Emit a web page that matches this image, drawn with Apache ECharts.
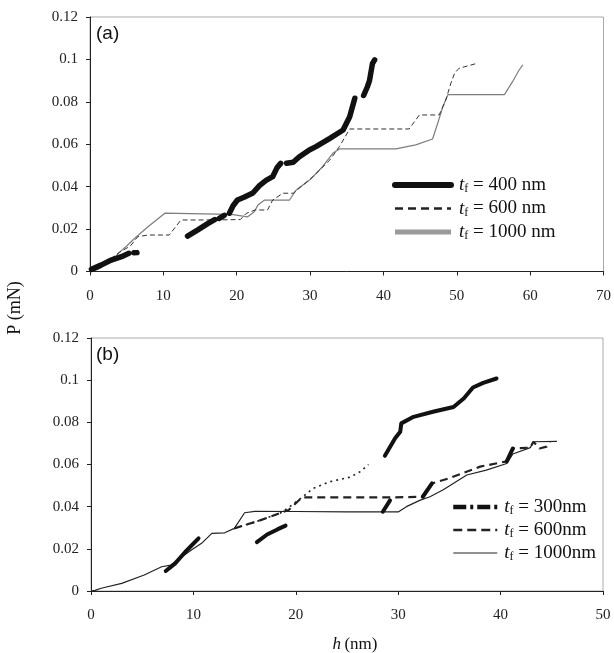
<!DOCTYPE html>
<html>
<head>
<meta charset="utf-8">
<script src="https://cdn.jsdelivr.net/npm/echarts/dist/echarts.min.js"></script>
<style>
  html, body { margin: 0; padding: 0; background: #fff; }
  #chart { width: 614px; height: 653px; }
</style>
</head>
<body>
<div id="chart"></div>
<script>
// Load–depth curves, P (mN) against h (nm), for several film thicknesses t_f.

// Panel (a) axes
const aXTicks = [0, 10, 20, 30, 40, 50, 60, 70];
const yTicks = [0, 0.02, 0.04, 0.06, 0.08, 0.1, 0.12];
// Panel (b) axes
const bXTicks = [0, 10, 20, 30, 40, 50];

// Panel (a): t_f = 400 nm (null marks gaps between fragments)
const a400 = [
  [0.2, 0.001], [1.5, 0.003], [2.9, 0.0054], [4.3, 0.007], [5.3, 0.0086], null,
  [6.0, 0.0088], [6.4, 0.0089], null,
  [13.3, 0.0167], [14.7, 0.0196], [16.1, 0.0227], [17.0, 0.0245], null,
  [17.6, 0.025], [18.3, 0.0265], null,
  [19.0, 0.0275], [19.5, 0.031], [20.1, 0.0337], [21.0, 0.035], [22.2, 0.037], [23.1, 0.0405],
  [24.0, 0.043], [24.9, 0.0447], [25.5, 0.049], [26.0, 0.051], null,
  [26.8, 0.051], [27.7, 0.0515], [28.5, 0.054], [29.9, 0.0573], [30.8, 0.0589], [32.7, 0.0628],
  [34.5, 0.0667], [35.4, 0.073], [36.1, 0.0817], null,
  [37.3, 0.083], [37.8, 0.087], [38.1, 0.090], [38.3, 0.094], [38.5, 0.098], [38.8, 0.0998]
];

// Panel (a): t_f = 600 nm
const a600 = [
  [0, 0], [2, 0.004], [4, 0.009], [5.5, 0.012], [6.5, 0.0164], [7.9, 0.0172], [10.8, 0.0172],
  [12.4, 0.0243], [16.7, 0.0243], [20.5, 0.0245], [21.3, 0.0274], [22.5, 0.029], [24.2, 0.029],
  [24.9, 0.0337], [26.3, 0.0369], [27.7, 0.0369], [30.4, 0.0447], [32.7, 0.0526], [34.0, 0.0589],
  [35.4, 0.0672], [43.5, 0.0672], [44.9, 0.0738], [47.6, 0.0738], [48.5, 0.0809], [49.2, 0.0888],
  [49.7, 0.0935], [50.3, 0.0958], [52.6, 0.098]
];

// Panel (a): t_f = 1000 nm
const a1000 = [
  [0, 0], [1, 0.001], [2, 0.003], [3, 0.005], [4, 0.009], [5, 0.012], [6.1, 0.0157], [7.9, 0.0211],
  [10.2, 0.0275], [17.2, 0.0271], [19.5, 0.0268], [21.5, 0.0258], [22.4, 0.0282], [22.9, 0.0314],
  [23.8, 0.0337], [27.2, 0.0337], [28.1, 0.0384], [29.9, 0.043], [31.7, 0.0494], [33.1, 0.0557],
  [34.0, 0.0578], [41.7, 0.0578], [44.4, 0.0597], [46.7, 0.0625], [47.4, 0.0699], [48.1, 0.0777],
  [48.8, 0.0834], [56.5, 0.0834], [57.6, 0.0895], [58.5, 0.095], [59.0, 0.0974]
];

// Panel (b): t_f = 300 nm, heavy dash parts
const b300Heavy = [
  [7.3, 0.0095], [8.2, 0.013], [9.2, 0.0185], [10.5, 0.025], null,
  [16.2, 0.0232], [17.2, 0.0268], [18.2, 0.0292], [19.0, 0.031], null,
  [28.5, 0.0376], [29.2, 0.043], null,
  [32.4, 0.0447], [33.3, 0.051], null,
  [40.6, 0.0615], [41.2, 0.0676], null,
  [28.7, 0.0641], [29.7, 0.0724], [30.2, 0.0755], [30.3, 0.0795], [31.5, 0.0826], [33.4, 0.085],
  [35.4, 0.0873], [36.4, 0.0913], [37.3, 0.0965], [38.3, 0.0987], [39.6, 0.1008]
];
// Panel (b): t_f = 300 nm, dotted part
const b300Dots = [
  [14.0, 0.0297], [16.5, 0.0335], [18.5, 0.037], [19.4, 0.040], [20.6, 0.0444], [21.7, 0.0487],
  [23.3, 0.0518], [25.3, 0.054], [26.3, 0.0566], [27.1, 0.060]
];

// Panel (b): t_f = 600 nm
const b600 = [
  [14.0, 0.0297], [16.5, 0.0335], [19.3, 0.0384], [20.6, 0.0444], [29.2, 0.0444], [32.4, 0.0447],
  [33.3, 0.051], [35.0, 0.0535], [38.0, 0.059], [40.6, 0.0615], [41.2, 0.0676], [42.9, 0.068],
  [43.2, 0.0708], [43.8, 0.0676], [44.5, 0.0685], [44.8, 0.0708]
];

// Panel (b): t_f = 1000 nm
const b1000 = [
  [0, 0], [0.4, 0.0003], [1.0, 0.0013], [3.0, 0.0036], [5.2, 0.0076], [6.9, 0.0115], [7.8, 0.0123],
  [9.8, 0.0194], [10.8, 0.0226], [11.8, 0.0273], [13.05, 0.0276], [14.0, 0.0297], [15.0, 0.0371],
  [16.0, 0.0378], [20.0, 0.0377], [25.0, 0.0375], [30.0, 0.0375], [30.8, 0.040], [32.1, 0.043],
  [33.1, 0.0447], [34.4, 0.048], [36.7, 0.055], [38.6, 0.0573], [40.6, 0.0605], [41.2, 0.065],
  [42.9, 0.068], [43.2, 0.0708], [45.5, 0.071]
];

// Legend labels: thickness value shown after "t_f ="
const legendA = { a400: '400 nm', a600: '600 nm', a1000: '1000 nm' };
const legendB = { b300: '300nm', b600: '600nm', b1000: '1000nm' };

const SERIF = '"Liberation Serif", "DejaVu Serif", serif';
const SANS = '"Liberation Sans", Arial, sans-serif';

function legendRich(gap) {
  return {
    i: { fontFamily: SERIF, fontStyle: 'italic', fontSize: 19, lineHeight: 20, color: '#111', padding: [0, 0, 0, gap] },
    s: { fontFamily: SERIF, fontSize: 12, lineHeight: 20, color: '#111', padding: [8, 0, 0, 0] },
    n: { fontFamily: SERIF, fontSize: 19, lineHeight: 20, color: '#111' }
  };
}

function legendFmt(map) {
  return function (name) { return '{i|t}{s|f}{n| = ' + map[name] + '}'; };
}

function yAxisCfg(gi) {
  return {
    type: 'value', gridIndex: gi, min: yTicks[0], max: yTicks[yTicks.length - 1], interval: 0.02,
    axisLine: { show: true, lineStyle: { color: '#222', width: 1 } },
    axisTick: { show: true, length: 4, lineStyle: { color: '#222' } },
    splitLine: { show: false },
    axisLabel: {
      margin: 12, color: '#222', fontFamily: SERIF, fontSize: 15,
      formatter: function (v) { return String(+v.toFixed(2)); }
    }
  };
}

function xAxisCfg(gi, ticks) {
  return {
    type: 'value', gridIndex: gi, min: ticks[0], max: ticks[ticks.length - 1], interval: 10,
    axisLine: { show: true, onZero: false, lineStyle: { color: '#222', width: 1 } },
    axisTick: { show: true, length: 4, lineStyle: { color: '#222' } },
    splitLine: { show: false },
    axisLabel: { margin: 17, color: '#222', fontFamily: SERIF, fontSize: 15 }
  };
}

function lineSeries(name, gi, data, style, z) {
  return {
    name: name, type: 'line', xAxisIndex: gi, yAxisIndex: gi,
    data: data, showSymbol: false, symbol: 'none', connectNulls: false,
    itemStyle: { color: 'rgba(0,0,0,0)', opacity: 0 },
    lineStyle: style, z: z || 2, silent: true
  };
}

const hidden = { color: 'rgba(0,0,0,0)', opacity: 0, borderWidth: 0 };

const chart = echarts.init(document.getElementById('chart'), null, { renderer: 'canvas' });

chart.setOption({
  animation: false,
  backgroundColor: '#fff',
  grid: [
    { left: 90, top: 17, width: 515, height: 254.5, show: true, borderColor: '#aaa', borderWidth: 1 },
    { left: 91, top: 338, width: 512, height: 253, show: true, borderColor: '#aaa', borderWidth: 1 }
  ],
  xAxis: [xAxisCfg(0, aXTicks), xAxisCfg(1, bXTicks)],
  yAxis: [yAxisCfg(0), yAxisCfg(1)],
  legend: [
    {
      orient: 'vertical', left: 392, top: 175, padding: 0,
      itemWidth: 56, itemHeight: 14, itemGap: 3.5,
      itemStyle: hidden,
      data: [
        { name: 'a400', itemStyle: hidden, lineStyle: { width: 6, color: '#111', type: 'solid' } },
        { name: 'a600', itemStyle: hidden, lineStyle: { width: 2.5, color: '#222', type: [8, 5] } },
        { name: 'a1000', itemStyle: hidden, lineStyle: { width: 5, color: '#9a9a9a', type: 'solid' } }
      ],
      formatter: legendFmt(legendA),
      textStyle: { rich: legendRich(3) }
    },
    {
      orient: 'vertical', left: 451, top: 497, padding: 0,
      itemWidth: 44, itemHeight: 14, itemGap: 3,
      itemStyle: hidden,
      data: [
        { name: 'b300', itemStyle: hidden, lineStyle: { width: 4.5, color: '#111', type: [13, 4, 3, 4] } },
        { name: 'b600', itemStyle: hidden, lineStyle: { width: 2.5, color: '#222', type: [9, 5] } },
        { name: 'b1000', itemStyle: hidden, lineStyle: { width: 1.2, color: '#222', type: 'solid' } }
      ],
      formatter: legendFmt(legendB),
      textStyle: { rich: legendRich(2) }
    }
  ],
  series: [
    lineSeries('a1000', 0, a1000, { width: 1.2, color: '#7d7d7d', type: 'solid' }, 2),
    lineSeries('a600', 0, a600, { width: 1, color: '#333', type: [5, 3] }, 3),
    lineSeries('a400', 0, a400, { width: 5.5, color: '#111', type: 'solid', cap: 'round', join: 'round' }, 4),
    lineSeries('b1000', 1, b1000, { width: 1.2, color: '#222', type: 'solid' }, 2),
    lineSeries('b600', 1, b600, { width: 2.2, color: '#222', type: [8, 5] }, 3),
    lineSeries('b300', 1, b300Dots, { width: 1.6, color: '#222', type: [2, 4] }, 3),
    lineSeries('b300', 1, b300Heavy, { width: 4, color: '#111', type: 'solid', cap: 'round', join: 'round' }, 4)
  ],
  graphic: [
    { type: 'text', left: 96, top: 24, style: { text: '(a)', font: '19px ' + SANS, fill: '#111' } },
    { type: 'text', left: 96, top: 345, style: { text: '(b)', font: '19px ' + SANS, fill: '#111' } },
    {
      type: 'text', x: 15, y: 308, rotation: Math.PI / 2,
      style: { text: 'P (mN)', font: '18px ' + SERIF, fill: '#111', align: 'center', verticalAlign: 'middle' }
    },
    {
      type: 'text', x: 355, y: 645,
      style: {
        text: '{i|h} {n|(nm)}', align: 'center', verticalAlign: 'middle',
        rich: {
          i: { fontFamily: SERIF, fontStyle: 'italic', fontSize: 17, fill: '#111' },
          n: { fontFamily: SERIF, fontSize: 17, fill: '#111' }
        }
      }
    }
  ]
});
</script>
</body>
</html>
